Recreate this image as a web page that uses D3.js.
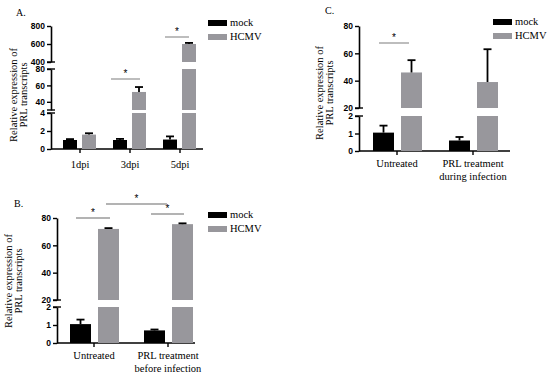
<!DOCTYPE html>
<html>
<head>
<meta charset="utf-8">
<script src="https://cdn.jsdelivr.net/npm/d3@7"></script>
<style>
  body { margin: 0; background: #fff; }
  svg text { fill: #000; }
</style>
</head>
<body>
<div id="chart"></div>
<script>
// ---- data ----
var legendKeys = ["mock", "HCMV"];

var catsA = ["1dpi", "3dpi", "5dpi"];
var mockA = [1.0, 1.0, 1.05];
var mockErrA = [0.1, 0.12, 0.35];
var hcmvA = [1.6, 52, 600];
var hcmvErrA = [0.15, 6, 12];

var catsB = ["Untreated", "PRL treatment|before infection"];
var mockB = [1.05, 0.7];
var mockErrB = [0.25, 0.05];
var hcmvB = [72, 75.5];
var hcmvErrB = [0.6, 0.6];

var catsC = ["Untreated", "PRL treatment|during infection"];
var mockC = [1.05, 0.6];
var mockErrC = [0.4, 0.2];
var hcmvC = [46, 39];
var hcmvErrC = [9, 24];

var serif = "'Liberation Serif', 'DejaVu Serif', serif";
var sans = "'Liberation Sans', Arial, sans-serif";
var grey = "#98979c";

var svg = d3.select("#chart").append("svg")
  .attr("width", 550)
  .attr("height", 379);

function drawPanel(p) {
  var g = svg.append("g");

  // one linear scale per axis segment (broken y axis)
  var segs = p.segments.map(function(s) {
    return {
      lo: s.domain[0], hi: s.domain[1], ticks: s.ticks,
      y: d3.scaleLinear().domain(s.domain).range(s.range)
    };
  });

  var x = d3.scaleBand().domain(p.cats).range(p.xRange);

  // axis segments
  segs.forEach(function(s) {
    var ax = g.append("g")
      .attr("transform", "translate(" + p.axisX + ",0)")
      .call(d3.axisLeft(s.y).tickValues(s.ticks).tickFormat(d3.format("d"))
        .tickSize(4).tickSizeOuter(0).tickPadding(2));
    ax.select(".domain").attr("stroke-width", 1.6);
    ax.selectAll(".tick line").attr("stroke-width", 1.4);
    ax.selectAll("text")
      .attr("font-family", sans)
      .attr("font-weight", "bold")
      .attr("font-size", 8.5);
  });
  // break marks at segment ends
  segs.forEach(function(s, i) {
    var ends = [];
    if (i > 0) ends.push(s.y.range()[0]);
    if (i < segs.length - 1) ends.push(s.y.range()[1]);
    ends.forEach(function(yy) {
      g.append("line")
        .attr("x1", p.axisX - 4).attr("x2", p.axisX + 4)
        .attr("y1", yy).attr("y2", yy)
        .attr("stroke", "#000").attr("stroke-width", 1.4);
    });
  });

  // x axis
  var baseY = segs[0].y(0);
  g.append("line")
    .attr("x1", p.axisX).attr("x2", p.xEnd)
    .attr("y1", baseY).attr("y2", baseY)
    .attr("stroke", "#000").attr("stroke-width", 1.6);
  p.cats.forEach(function(c) {
    var cx = x(c) + x.bandwidth() / 2;
    g.append("line")
      .attr("x1", cx).attr("x2", cx)
      .attr("y1", baseY).attr("y2", baseY + 4)
      .attr("stroke", "#000").attr("stroke-width", 1.4);
    var lines = c.split("|");
    var t = g.append("text")
      .attr("x", cx)
      .attr("y", baseY + p.labelDy)
      .attr("text-anchor", "middle")
      .attr("font-family", serif)
      .attr("font-size", 10.5);
    lines.forEach(function(l, i) {
      t.append("tspan").attr("x", cx).attr("dy", i === 0 ? 0 : 13).text(l);
    });
  });

  // bars
  var series = [
    { key: "mock", vals: p.mock, errs: p.mockErr, color: "#000" },
    { key: "HCMV", vals: p.hcmv, errs: p.hcmvErr, color: grey }
  ];
  series.forEach(function(se) {
    p.cats.forEach(function(c, i) {
      var v = se.vals[i];
      var bx = x(c) + x.bandwidth() / 2 + (se.key === "mock" ? -p.barW - p.inner : p.inner2);
      segs.forEach(function(s) {
        if (v <= s.lo) return;
        var top = s.y(Math.min(v, s.hi));
        var bot = s.y(s.lo);
        g.append("rect")
          .attr("x", bx).attr("width", p.barW)
          .attr("y", top).attr("height", bot - top)
          .attr("fill", se.color);
      });
      // error bar
      var e = v + se.errs[i];
      var s = segs.filter(function(s) { return e >= s.lo && e <= s.hi; })[0];
      if (s) {
        var cx = bx + p.barW / 2;
        g.append("line")
          .attr("x1", cx).attr("x2", cx)
          .attr("y1", s.y(Math.max(v, s.lo))).attr("y2", s.y(e))
          .attr("stroke", "#000").attr("stroke-width", 1.8);
        g.append("line")
          .attr("x1", cx - 4).attr("x2", cx + 4)
          .attr("y1", s.y(e)).attr("y2", s.y(e))
          .attr("stroke", "#000").attr("stroke-width", 1.8);
      }
    });
  });

  // significance lines
  p.sig.forEach(function(s) {
    g.append("line")
      .attr("x1", s.x1).attr("x2", s.x2)
      .attr("y1", s.y).attr("y2", s.y)
      .attr("stroke", "#9a9a9a").attr("stroke-width", 1.3);
    g.append("text")
      .attr("x", (s.x1 + s.x2) / 2).attr("y", s.y - 2)
      .attr("text-anchor", "middle")
      .attr("font-family", sans)
      .attr("font-size", 10)
      .text("*");
  });

  // y label
  var yl = g.append("text")
    .attr("transform", "translate(" + p.ylabX + "," + p.ylabY + ") rotate(-90)")
    .attr("text-anchor", "middle")
    .attr("font-family", serif)
    .attr("font-size", 10.5);
  yl.append("tspan").attr("x", 0).attr("dy", 0).text("Relative expression of");
  yl.append("tspan").attr("x", 0).attr("dy", 10).text("PRL transcripts");

  // panel title
  g.append("text")
    .attr("x", p.titleX).attr("y", p.titleY)
    .attr("font-family", serif)
    .attr("font-size", 10)
    .text(p.title);

  // legend
  legendKeys.forEach(function(k, i) {
    g.append("rect")
      .attr("x", p.legX).attr("y", p.legY + i * 14)
      .attr("width", 19).attr("height", 6)
      .attr("fill", k === "mock" ? "#000" : grey);
    g.append("text")
      .attr("x", p.legX + 22).attr("y", p.legY + i * 14 + 6)
      .attr("font-family", serif)
      .attr("font-size", 10.5)
      .text(k);
  });
}

drawPanel({
  title: "A.", titleX: 16, titleY: 16,
  cats: catsA, mock: mockA, mockErr: mockErrA, hcmv: hcmvA, hcmvErr: hcmvErrA,
  axisX: 51, xEnd: 203, xRange: [55, 205],
  barW: 14, inner: 3, inner2: 2,
  segments: [
    { domain: [0, 4], range: [149, 113], ticks: [0, 2, 4] },
    { domain: [30, 80], range: [110, 69], ticks: [40, 60, 80] },
    { domain: [400, 800], range: [62, 26], ticks: [400, 600, 800] }
  ],
  labelDy: 19,
  sig: [
    { x1: 111, x2: 140, y: 79 },
    { x1: 165, x2: 189, y: 37 }
  ],
  ylabX: 17, ylabY: 95,
  legX: 208, legY: 20
});

drawPanel({
  title: "B.", titleX: 14, titleY: 207,
  cats: catsB, mock: mockB, mockErr: mockErrB, hcmv: hcmvB, hcmvErr: hcmvErrB,
  axisX: 57, xEnd: 195, xRange: [57, 205],
  barW: 21, inner: 3, inner2: 4,
  segments: [
    { domain: [0, 2], range: [343, 307], ticks: [0, 1, 2] },
    { domain: [20, 80], range: [300, 218], ticks: [20, 40, 60, 80] }
  ],
  labelDy: 16,
  sig: [
    { x1: 76, x2: 110, y: 218 },
    { x1: 151, x2: 184, y: 214 },
    { x1: 106, x2: 167, y: 204 }
  ],
  ylabX: 12, ylabY: 281,
  legX: 208, legY: 212
});

drawPanel({
  title: "C.", titleX: 325, titleY: 14,
  cats: catsC, mock: mockC, mockErr: mockErrC, hcmv: hcmvC, hcmvErr: hcmvErrC,
  axisX: 359, xEnd: 510, xRange: [359, 511],
  barW: 21, inner: 3, inner2: 4,
  segments: [
    { domain: [0, 2], range: [151, 116], ticks: [0, 1, 2] },
    { domain: [20, 80], range: [108, 26], ticks: [20, 40, 60, 80] }
  ],
  labelDy: 16,
  sig: [
    { x1: 379, x2: 409, y: 43 }
  ],
  ylabX: 323, ylabY: 93,
  legX: 493, legY: 19
});
</script>
</body>
</html>
